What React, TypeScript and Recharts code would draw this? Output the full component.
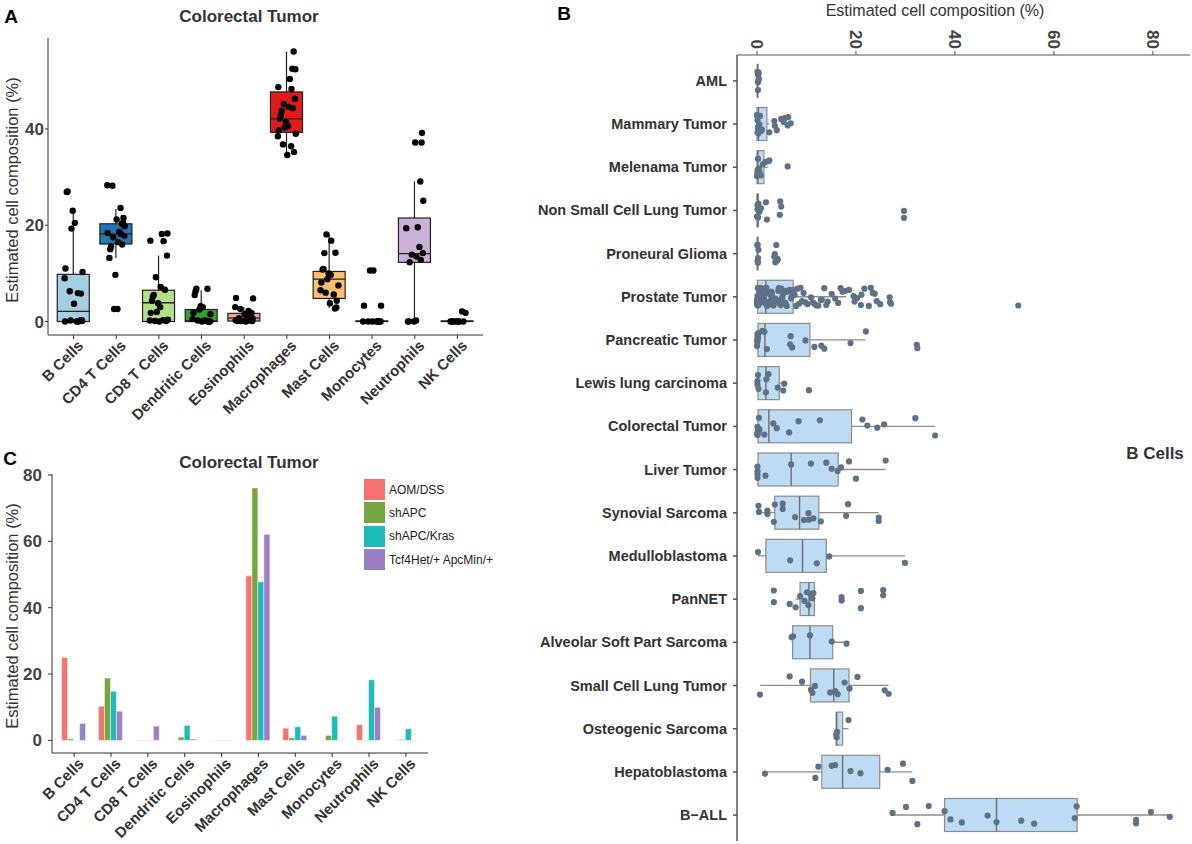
import React from "react";
import { ComposedChart, BarChart, Bar, Scatter, XAxis, YAxis } from "recharts";

const FONT = '"Liberation Sans", Arial, Helvetica, sans-serif';

// ---- panel A: colorectal tumor, immune cell composition ----
const cellTypes = [
  "B Cells", "CD4 T Cells", "CD8 T Cells", "Dendritic Cells", "Eosinophils",
  "Macrophages", "Mast Cells", "Monocytes", "Neutrophils", "NK Cells",
];
const cellColors = [
  "#A6CEE3", "#1F78B4", "#B2DF8A", "#33A02C", "#FB9A99",
  "#E31A1C", "#FDBF6F", "#FF7F00", "#CAB2D6", "#6A3D9A",
];
// [lower whisker, q1, median, q3, upper whisker]
const colorectalStats = [
  [0, 0, 2.1, 9.8, 22.9],
  [13.2, 16.1, 18.2, 20.3, 23.4],
  [0, 0, 3.9, 6.5, 13.7],
  [0, 0, 0.1, 2.5, 6.5],
  [0, 0.1, 0.7, 1.7, 3.0],
  [34.6, 39.3, 42.1, 47.7, 56.1],
  [2.8, 4.8, 8.8, 10.4, 18.1],
  [0, 0, 0.05, 0.1, 0.2],
  [0, 12.3, 14.1, 21.5, 29.1],
  [0, 0, 0.05, 0.1, 0.2],
];
const colorectalPoints = [
  [27, 26.9, 23, 20.5, 19.3, 11, 10.3, 9, 6.3, 5.9, 5.8, 3.7, 0.2, 0.1, 0.1, 0, 0, 0, 0.3, 0.2],
  [28.3, 28.2, 23.6, 21.5, 21.2, 20.5, 20.3, 19.8, 18.6, 18.4, 18.2, 17.8, 17.5, 16.5, 16, 15.6, 15, 13.2, 9.7, 2.6, 2.6],
  [18.3, 18.2, 16.8, 16.7, 13.7, 9.2, 7.2, 6.6, 5.5, 5.2, 4.3, 3.8, 3, 2, 1.8, 0.4, 0.2, 0.1, 0.3, 0.1, 0],
  [6.8, 6.8, 6.3, 5.5, 3.2, 3, 2.5, 1.8, 1.5, 0.5, 0.2, 0.1, 0, 0, 0, 0.1, 0, 0.2],
  [4.9, 4.8, 3, 2.6, 2.2, 1.8, 1.5, 1.2, 0.9, 0.6, 0.5, 0.3, 0.2, 0.1, 0.1, 0, 0.4, 0.7, 0.2, 0.1],
  [56.1, 52.5, 52.4, 50.4, 48.7, 48.3, 46.3, 45.2, 44.6, 44.3, 43.8, 42.9, 42.2, 41.4, 40.6, 40.3, 39.7, 39, 38.5, 36.8, 36.4, 35.2, 34.6],
  [18.1, 16.8, 14.3, 14.2, 10.9, 10.8, 10, 9.7, 8.8, 8.1, 7.5, 6.5, 6, 5.6, 4.3, 3.8, 2.9, 2.7],
  [10.6, 10.6, 3.3, 3.3, 0, 0, 0, 0, 0, 0, 0, 0],
  [39.2, 37.2, 37.2, 29.1, 25.1, 19.6, 19.4, 15.5, 14.2, 13.9, 13.5, 12.8, 12.3, 0, 0, 0, 0.2],
  [2.1, 1.8, 0, 0, 0, 0, 0, 0, 0, 0],
];

// ---- panel B: B cells across tumor types ----
const tumorTypes = [
  "AML", "Mammary Tumor", "Melenama Tumor", "Non Small Cell Lung Tumor", "Proneural Glioma",
  "Prostate Tumor", "Pancreatic Tumor", "Lewis lung carcinoma", "Colorectal Tumor", "Liver Tumor",
  "Synovial Sarcoma", "Medulloblastoma", "PanNET", "Alveolar Soft Part Sarcoma",
  "Small Cell Lung Tumor", "Osteogenic Sarcoma", "Hepatoblastoma", "B\u2212ALL",
];
const bCellStats = [
  [0, 0.05, 0.1, 0.2, 0.3],
  [0, 0, 0.3, 2.0, 2.5],
  [0, 0, 0.2, 1.4, 2.2],
  [0, 0, 0.1, 0.3, 0.5],
  [0, 0.05, 0.1, 0.2, 0.3],
  [0, 0.1, 1.8, 7.3, 18],
  [0, 0.2, 1.6, 10.7, 21.9],
  [0, 0.2, 1.8, 4.5, 5.4],
  [0, 0.2, 2.4, 19.1, 36],
  [0, 0.2, 6.9, 16.4, 26],
  [0.2, 3.6, 8.6, 12.5, 24.6],
  [0.2, 1.8, 9.2, 14, 29.9],
  [7.8, 8.7, 10.5, 11.6, 11.6],
  [7.0, 7.2, 10.7, 15.3, 18.1],
  [0.6, 10.8, 15.5, 18.6, 26.6],
  [16, 16, 16.1, 17.3, 18.5],
  [1.6, 13.1, 17.3, 24.8, 31.4],
  [27.4, 37.9, 48.4, 64.7, 83.4],
];
const bCellPoints = [
  [0.2, 0.3, 0.3, 0.2, 0.4, 0.3, 0.2, 0.1],
  [0, 0.1, 0.2, 0.3, 0.5, 0.8, 1.0, 0.1, 0.2, 0, 0.4, 2.5, 3.5, 3.6, 4.0, 4.9, 5.6, 6.3, 6.8, 6.2, 5.4, 0.6, 0.3],
  [0, 0.1, 0.2, 0.5, 0.8, 1.2, 0.3, 0.1, 1.7, 2.2, 2.5, 6.2, 0.4],
  [0, 0.1, 0.2, 0.3, 0.1, 0.5, 0.8, 1.8, 2.0, 4.7, 4.9, 4.6, 29.7, 29.7, 0.2],
  [0.1, 0.2, 0.1, 0.3, 0.2, 0.1, 3.6, 4.1, 4.2, 3.7, 3.5, 3.9, 4.0],
  [
    0, 0, 0.1, 0, 0.2, 0.1, 0.3, 0.4, 0.2, 0.6, 0.5, 0.9, 0.7, 1.1, 1.4, 1.2, 1.7, 2.0, 1.9, 2.3,
    2.6, 2.4, 3.1, 2.8, 3.5, 3.3, 3.9, 4.4, 4.1, 4.8, 5.3, 5.0, 5.7, 6.2, 5.9, 6.6, 7.1, 6.9, 7.6, 8.2,
    7.9, 8.8, 9.4, 9.1, 10.2, 10.9, 11.6, 11.3, 12.4, 12.9, 13.6, 14.3, 14.0, 15.1, 15.8, 16.4, 17.3,
    17.9, 18.6, 19.5, 20.2, 21.1, 21.7, 22.6, 23.0, 23.4, 24.2, 24.9, 26.8, 27.1, 26.9, 52.8,
    0.3, 0.8, 1.5, 2.2, 3.0, 3.7, 4.5, 5.5, 6.4, 7.3, 0.1, 1.0, 2.7, 4.9, 6.0, 0.2, 0.6, 1.3, 3.4,
    5.1, 8.5, 9.8, 12.0, 13.1, 16.9, 19.7, 21.0, 23.8, 0.4, 1.6, 2.9, 4.3,
  ],
  [0.1, 0.1, 0, 0.2, 0.1, 0.3, 0.1, 0, 0.2, 1.5, 2.0, 1.1, 6.8, 6.7, 7.1, 9.8, 11.6, 13, 13.6, 18.9, 22, 32.3, 32.4],
  [0.1, 0.1, 0.2, 1.8, 2.3, 1.9, 4.2, 5.3, 5.5, 10.5, 0.3],
  [0, 0.1, 0.2, 0.3, 0.1, 0.5, 0.4, 0.2, 1.5, 3.3, 4, 6.5, 8.4, 12.7, 21.3, 22.3, 24.3, 25.7, 32, 36],
  [0.1, 0.1, 0.1, 0.1, 1.7, 6.9, 10.9, 14, 15.1, 16.3, 17, 18.6, 20, 26],
  [0.3, 0.4, 2.1, 2.1, 3.6, 3.4, 5.2, 5.2, 7.7, 9.5, 10.4, 10.5, 11.4, 12.9, 18, 18.4, 24.6, 24.6],
  [0.2, 6.7, 12.1, 14.6, 29.9],
  [3.4, 3.4, 6.6, 7.8, 8.7, 9.6, 10.4, 10.9, 11.4, 10.1, 11.2, 17.1, 17.1, 21, 21, 25.5, 25.5],
  [7, 7.3, 10.7, 15.1, 18.1],
  [0.6, 6.6, 9.1, 10.9, 11.2, 11.7, 14.8, 15.8, 16.3, 18.7, 20.3, 25.8, 26.6, 17.7],
  [16, 16.1, 16.2, 18.5],
  [1.6, 11.8, 12.4, 15.1, 15.8, 18.9, 20.9, 26.4, 29.5, 31.4],
  [27.4, 30.1, 32.4, 34.7, 37.9, 39.1, 41.4, 46.6, 48.4, 53.4, 56, 64.2, 64.6, 76.6, 76.6, 79.6, 83.4],
];

// ---- panel C: mouse models ----
const models = ["AOM/DSS", "shAPC", "shAPC/Kras", "Tcf4Het/+ ApcMin/+"];
const modelColors = ["#F4736E", "#77A640", "#1DBAB7", "#9B7EC3"];
const aomDss = [25.0, 10.3, 0.1, 0.1, 0.1, 49.6, 3.7, 0.1, 4.7, 0.1];
const shApc = [0.5, 18.8, 0.1, 1.0, 0.1, 76.1, 0.8, 1.5, 0.1, 0.3];
const shApcKras = [0.1, 14.8, 0.1, 4.5, 0.1, 47.8, 4.1, 7.3, 18.3, 3.5];
const tcf4Apc = [5.1, 8.8, 4.3, 0.4, 0.1, 62.1, 1.5, 0.1, 10.0, 0.1];

// jitter offsets (fraction of a category band)
const jitter = [-0.14, 0.17, 0.04, -0.21, 0.11, -0.05, 0.2, -0.16, 0.01, 0.14, -0.09, 0.19,
  -0.19, 0.07, -0.02, 0.16, -0.12, 0.1, -0.07, 0.21, -0.2, 0.03, 0.13];

const boxRows = (names: string[], stats: number[][], colors?: string[]) =>
  names.map((name, i) => ({
    name,
    whisker: [stats[i][0], stats[i][4]],
    box: [stats[i][1], stats[i][3]],
    med: stats[i][2],
    color: colors ? colors[i] : "#BDDBF3",
  }));

const pointRows = (groups: number[][]) =>
  groups.flatMap((vals, i) =>
    vals.map((v, j) => ({ pos: i + jitter[(j * 7 + i * 3) % jitter.length], v }))
  );

const dataA = boxRows(cellTypes, colorectalStats, cellColors);
const ptsA = pointRows(colorectalPoints);
const dataB = boxRows(tumorTypes, bCellStats);
const ptsB = pointRows(bCellPoints);
const dataC = cellTypes.map((name, i) => ({
  name, aom: aomDss[i], shapc: shApc[i], kras: shApcKras[i], tcf4: tcf4Apc[i],
}));

// ---- shapes ----
const VWhisker = (p: any) => {
  const cx = p.x + p.width / 2;
  return <line x1={cx} x2={cx} y1={p.y} y2={p.y + p.height} stroke="#222" strokeWidth={1.2} />;
};
const VBox = (p: any) => {
  const [q1, q3] = p.payload.box;
  const my = q3 > q1 ? p.y + (p.height * (q3 - p.payload.med)) / (q3 - q1) : p.y;
  return (
    <g>
      <rect x={p.x} y={p.y} width={p.width} height={Math.max(p.height, 0)} fill={p.payload.color} stroke="#222" strokeWidth={1.2} />
      <line x1={p.x} x2={p.x + p.width} y1={my} y2={my} stroke="#222" strokeWidth={1.4} />
    </g>
  );
};
const HWhisker = (p: any) => {
  const cy = p.y + p.height / 2;
  return <line x1={p.x} x2={p.x + p.width} y1={cy} y2={cy} stroke="#8C8C8C" strokeWidth={1.3} />;
};
const HBox = (p: any) => {
  const [q1, q3] = p.payload.box;
  const mx = q3 > q1 ? p.x + (p.width * (p.payload.med - q1)) / (q3 - q1) : p.x;
  return (
    <g>
      <rect x={p.x} y={p.y} width={Math.max(p.width, 0.6)} height={p.height} fill={p.payload.color} stroke="#8C8C8C" strokeWidth={1.2} />
      <line x1={mx} x2={mx} y1={p.y} y2={p.y + p.height} stroke="#6E6E6E" strokeWidth={1.4} />
    </g>
  );
};
const BlackDot = (p: any) => <circle cx={p.cx} cy={p.cy} r={3.2} fill="#000" />;
const SlateDot = (p: any) => <circle cx={p.cx} cy={p.cy} r={3.1} fill="#5E7186" />;

const SlantTick = (p: any) => (
  <g transform={`translate(${p.x + 3},${p.y - 2}) rotate(-45)`}>
    <text x={0} y={0} dy="0.72em" textAnchor="end" fill="#333" fontSize={15} fontWeight={700}>
      {p.payload.value}
    </text>
  </g>
);
const UpTick = (p: any) => (
  <text x={p.x} y={p.y} transform={`rotate(90, ${p.x}, ${p.y})`} textAnchor="end"
    dominantBaseline="central" fill="#444" fontSize={17} fontWeight={700}>
    {p.payload.value}
  </text>
);
const NameTick = (p: any) => (
  <text x={p.x} y={p.y} textAnchor="end" dominantBaseline="central" fill="#333" fontSize={14.5} fontWeight={700}>
    {p.payload.value}
  </text>
);

const numTick = { fill: "#444", fontSize: 17, fontWeight: 700 };

const Txt = ({ x, y, size, bold, rotate, color, children }: any) => (
  <div style={{
    position: "absolute", left: x, top: y, whiteSpace: "nowrap", fontSize: size,
    fontWeight: bold ? 700 : 400, color: color || "#333", lineHeight: 1,
    transform: `translate(-50%, -50%)${rotate ? ` rotate(${rotate}deg)` : ""}`,
  }}>{children}</div>
);

export default function App() {
  const padA = 4.26;
  const padB = 4.32;
  const padC = 3.69;
  return (
    <div style={{ position: "absolute", left: 0, top: 0, width: 1192, height: 844, background: "#fff", fontFamily: FONT, overflow: "hidden" }}>
      {/* Panel A */}
      <div style={{ position: "absolute", left: 0, top: 0 }}>
        <ComposedChart width={490} height={430} data={dataA} margin={{ top: 38, right: 7, bottom: 0, left: 0 }}>
          <XAxis xAxisId="box" dataKey="name" type="category" interval={0} height={95}
            padding={{ left: padA, right: padA }} tick={<SlantTick />} tickSize={4} stroke="#333" />
          <XAxis xAxisId="wh" dataKey="name" type="category" hide padding={{ left: padA, right: padA }} />
          <XAxis xAxisId="pt" dataKey="pos" type="number" hide domain={[-0.5, 9.5]} allowDataOverflow
            padding={{ left: padA, right: padA }} />
          <YAxis type="number" domain={[-2.8, 58.9]} ticks={[0, 20, 40]} allowDataOverflow width={48}
            tick={numTick} tickSize={3} tickMargin={1} stroke="#333" />
          <Bar xAxisId="wh" dataKey="whisker" barSize={32} shape={VWhisker} isAnimationActive={false} />
          <Bar xAxisId="box" dataKey="box" barSize={32} shape={VBox} isAnimationActive={false} />
          <Scatter xAxisId="pt" data={ptsA} dataKey="v" shape={BlackDot} isAnimationActive={false} />
        </ComposedChart>
      </div>
      <Txt x={11} y={16} size={19} bold color="#000">A</Txt>
      <Txt x={249} y={16} size={17} bold>Colorectal Tumor</Txt>
      <Txt x={12} y={190} size={16.5} rotate={-90}>Estimated cell composition (%)</Txt>

      {/* Panel B */}
      <div style={{ position: "absolute", left: 520, top: 0 }}>
        <ComposedChart layout="vertical" width={672} height={844} data={dataB} margin={{ top: 0, right: 2, bottom: 3, left: 0 }}>
          <XAxis type="number" orientation="top" domain={[-4.04, 87.5]} ticks={[0, 20, 40, 60, 80]}
            allowDataOverflow height={55} tick={<UpTick />} tickSize={4} tickMargin={2} stroke="#555" />
          <YAxis yAxisId="box" type="category" dataKey="name" width={217} interval={0}
            padding={{ top: padB, bottom: padB }} tickSize={4} tickMargin={6} stroke="#555" strokeWidth={1.5}
            tick={<NameTick />} />
          <YAxis yAxisId="wh" type="category" dataKey="name" hide padding={{ top: padB, bottom: padB }} />
          <YAxis yAxisId="pt" type="number" dataKey="pos" hide domain={[-0.5, 17.5]} allowDataOverflow
            padding={{ top: padB, bottom: padB }} />
          <Bar yAxisId="wh" dataKey="whisker" barSize={33} shape={HWhisker} isAnimationActive={false} />
          <Bar yAxisId="box" dataKey="box" barSize={33} shape={HBox} isAnimationActive={false} />
          <Scatter yAxisId="pt" data={ptsB} dataKey="v" shape={SlateDot} isAnimationActive={false} />
        </ComposedChart>
      </div>
      <Txt x={564} y={13} size={19} bold color="#000">B</Txt>
      <Txt x={935} y={11} size={16} >Estimated cell composition (%)</Txt>
      <Txt x={1155} y={453} size={17} bold>B Cells</Txt>

      {/* Panel C */}
      <div style={{ position: "absolute", left: 0, top: 440 }}>
        <BarChart width={500} height={404} data={dataC} margin={{ top: 34, right: 72, bottom: 0, left: 0 }}
          barCategoryGap="16%" barGap={0}>
          <XAxis dataKey="name" interval={0} height={91} padding={{ left: padC, right: padC }}
            tick={<SlantTick />} tickSize={4} stroke="#333" />
          <YAxis type="number" domain={[-3.8, 80.3]} ticks={[0, 20, 40, 60, 80]} allowDataOverflow width={52}
            tick={numTick} tickSize={4} tickMargin={6} stroke="#333" />
          <Bar dataKey="aom" fill={modelColors[0]} stroke="#fff" strokeWidth={0.5} isAnimationActive={false} />
          <Bar dataKey="shapc" fill={modelColors[1]} stroke="#fff" strokeWidth={0.5} isAnimationActive={false} />
          <Bar dataKey="kras" fill={modelColors[2]} stroke="#fff" strokeWidth={0.5} isAnimationActive={false} />
          <Bar dataKey="tcf4" fill={modelColors[3]} stroke="#fff" strokeWidth={0.5} isAnimationActive={false} />
        </BarChart>
      </div>
      <Txt x={10} y={458} size={19} bold color="#000">C</Txt>
      <Txt x={249} y={462} size={17} bold>Colorectal Tumor</Txt>
      <Txt x={12} y={616} size={16.5} rotate={-90}>Estimated cell composition (%)</Txt>
      <div style={{ position: "absolute", left: 364, top: 478 }}>
        {models.map((m, i) => (
          <div key={m} style={{ display: "flex", alignItems: "center", height: 23.3 }}>
            <span style={{ display: "inline-block", width: 21, height: 21, background: modelColors[i] }} />
            <span style={{ marginLeft: 4, fontSize: 12, color: "#222", whiteSpace: "nowrap" }}>{m}</span>
          </div>
        ))}
      </div>
    </div>
  );
}
